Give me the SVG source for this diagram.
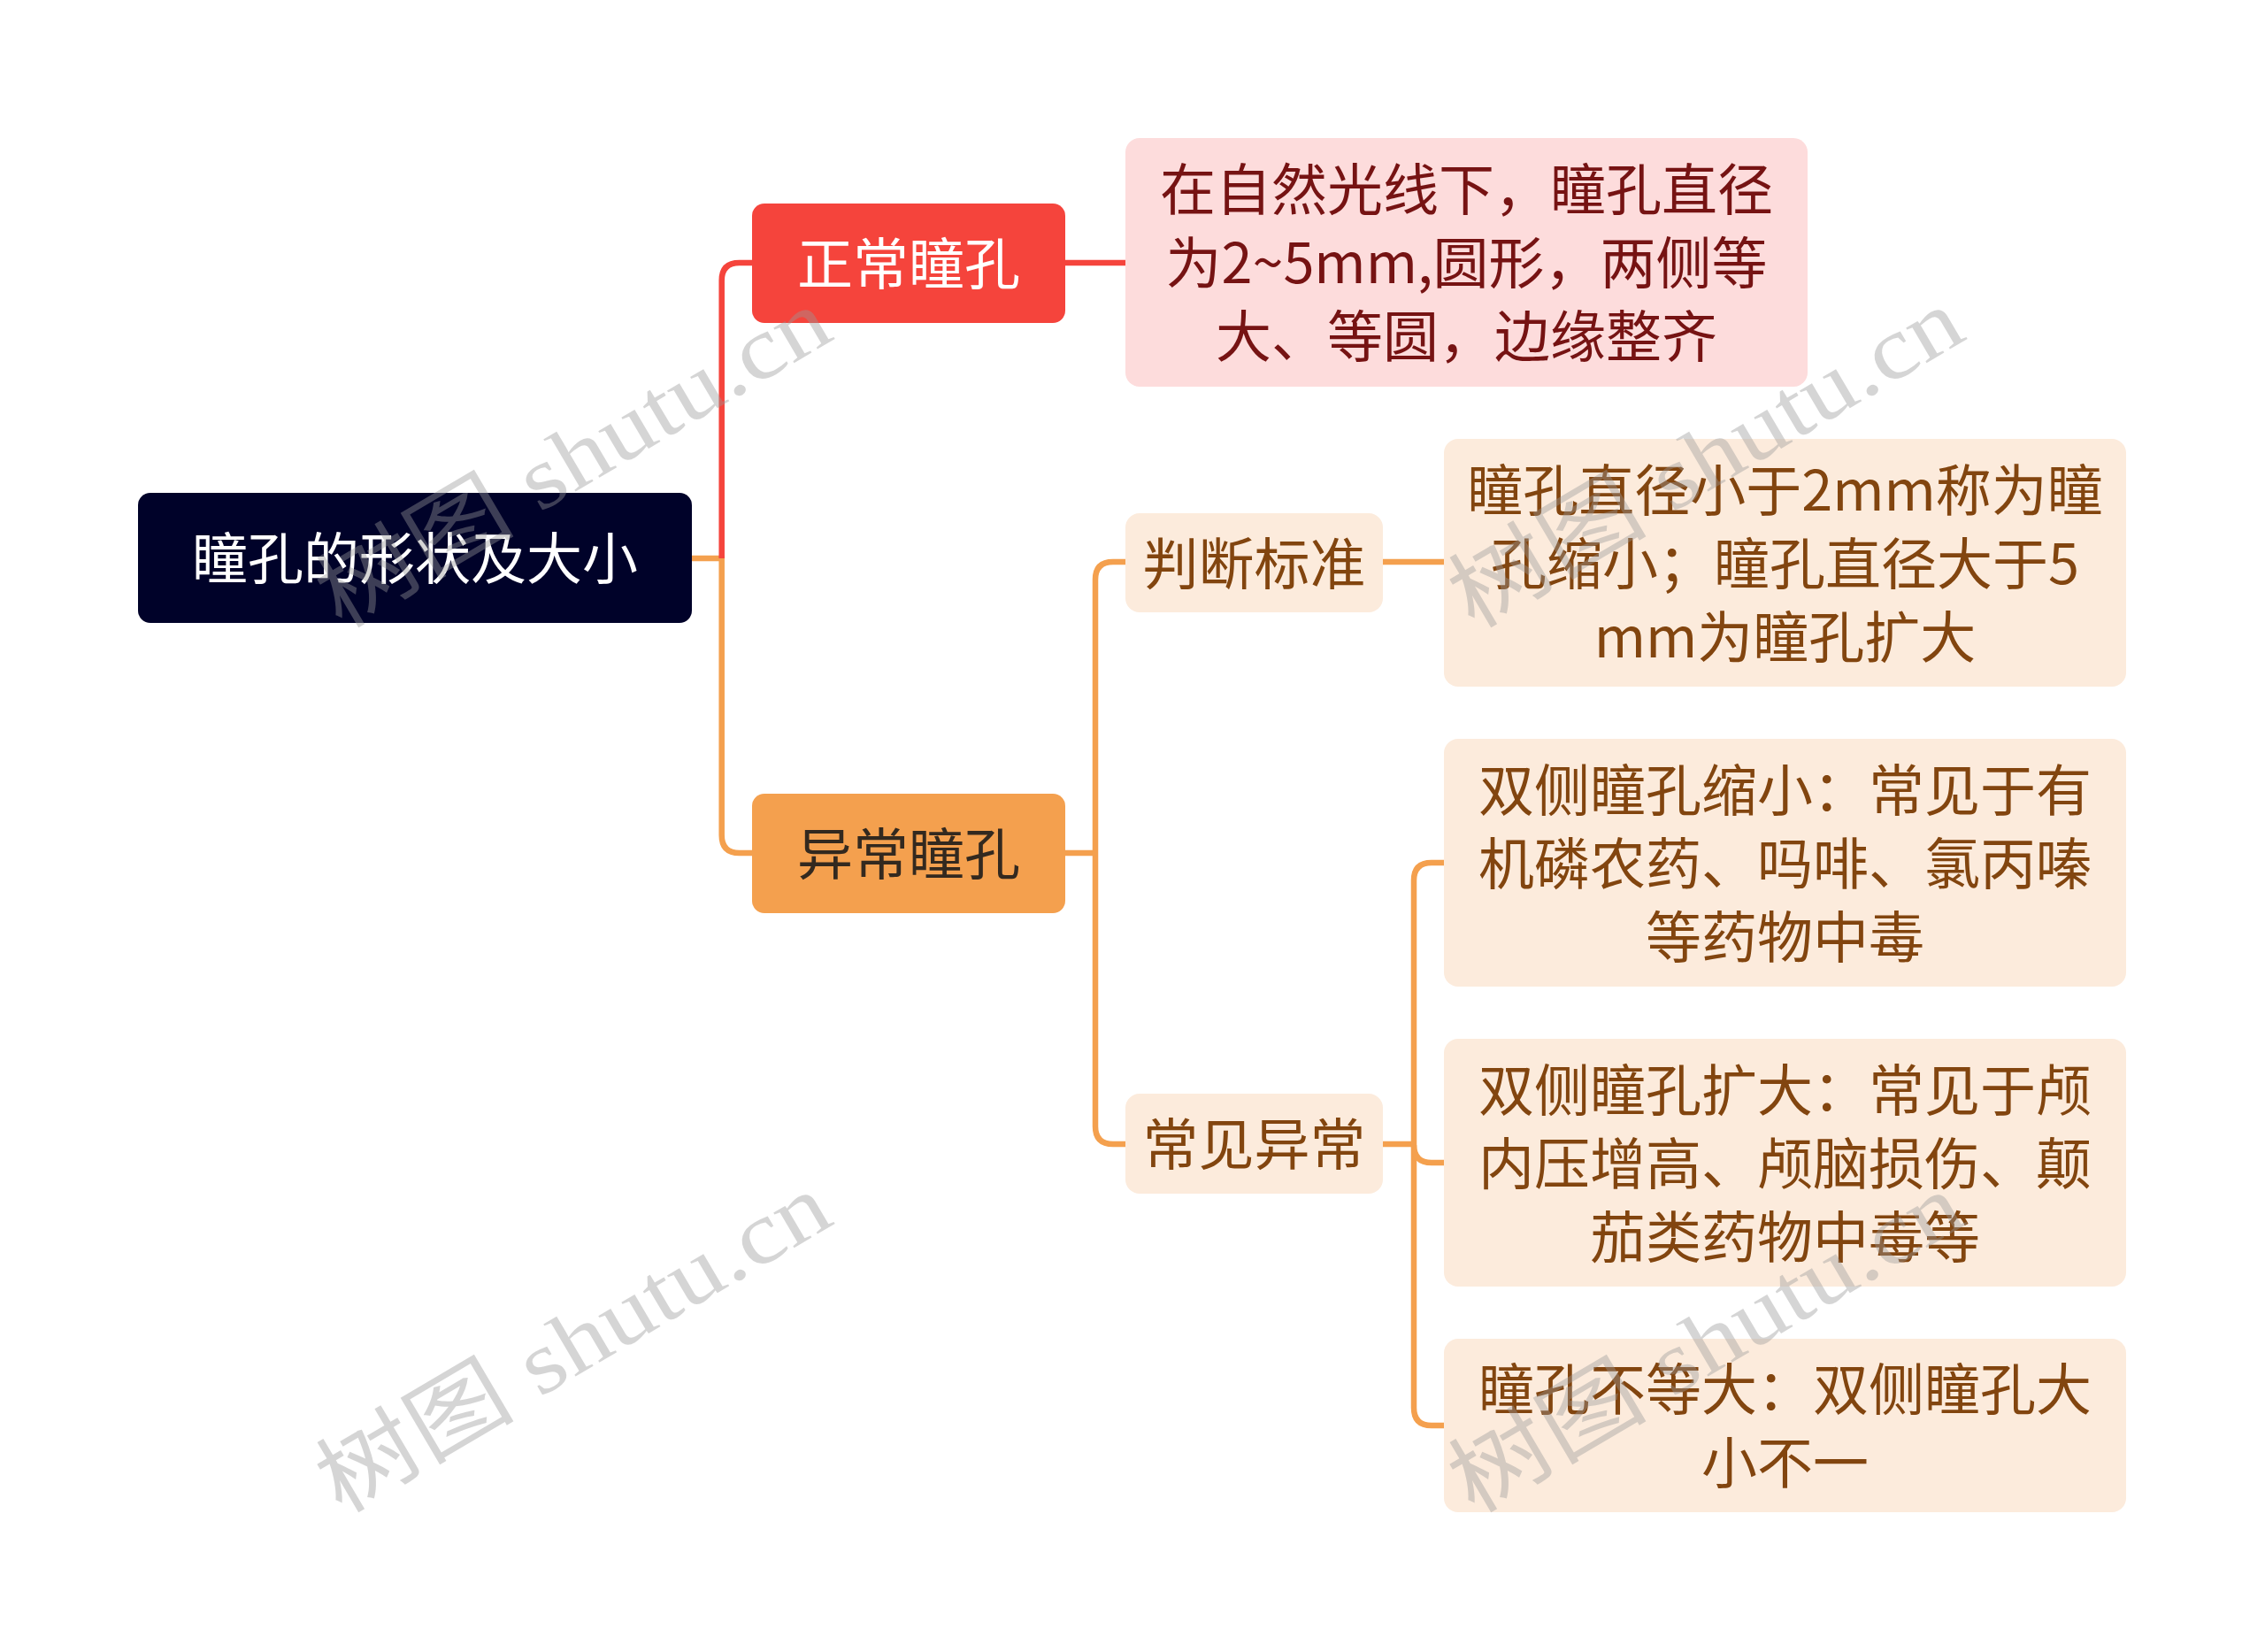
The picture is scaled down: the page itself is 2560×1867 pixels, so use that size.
<svg xmlns="http://www.w3.org/2000/svg" width="2560" height="1867" viewBox="0 0 2560 1867">
<style>
text{font-family:"Noto Sans CJK SC","Noto Sans",sans-serif;font-size:63px;text-anchor:middle}
.red{fill:#F5443C}
.org{fill:#F4A04E}
.pink{fill:#FDDCDC}
.cream{fill:#FCEBDC}
.tw{fill:#FFFFFF}
.tp{fill:#761313}
.tc{fill:#82450F}
.td{fill:#33291F}
.lr{fill:none;stroke:#F5443C;stroke-width:6.5}
.lo{fill:none;stroke:#F4A04E;stroke-width:6.5}
.wm{font-family:"Liberation Serif","Noto Sans CJK SC",serif;font-size:100px;fill:#999999;opacity:0.4;text-anchor:start}
</style>
<rect width="2560" height="1867" fill="#FFFFFF"/>
<g id="connectors">
<path class="lo" d="M782 631 H815.7 V944 Q815.7 964 835.7 964 H852"/>
<path class="lr" d="M815.7 631 V317 Q815.7 297 835.7 297 H852"/>
<path class="lr" d="M1202 297 H1274"/>
<path class="lo" d="M1202 964 H1238"/>
<path class="lo" d="M1274 635 H1258 Q1238 635 1238 655 V1273 Q1238 1293 1258 1293 H1274"/>
<path class="lo" d="M1561 635 H1634"/>
<path class="lo" d="M1561 1293 H1598"/>
<path class="lo" d="M1634 975 H1618 Q1598 975 1598 995 V1591 Q1598 1611 1618 1611 H1634"/>
<path class="lo" d="M1598 1294 Q1598 1314 1618 1314 H1634"/>
</g>
<g id="root">
<rect x="156" y="557" width="626" height="147" rx="14" fill="#000229"/>
<text class="tw" x="469" y="654">瞳孔的形状及大小</text>
</g>
<g id="normal">
<rect class="red" x="850" y="230" width="354" height="135" rx="14"/>
<text class="tw" x="1027" y="321">正常瞳孔</text>
</g>
<g id="normal-desc">
<rect class="pink" x="1272" y="156" width="771" height="281" rx="16"/>
<text class="tp" x="1657.5" y="237">在自然光线下，瞳孔直径</text>
<text class="tp" x="1657.5" y="320">为2~5mm,圆形，两侧等</text>
<text class="tp" x="1657.5" y="403">大、等圆，边缘整齐</text>
</g>
<g id="abnormal">
<rect class="org" x="850" y="897" width="354" height="135" rx="14"/>
<text class="td" x="1027" y="988">异常瞳孔</text>
</g>
<g id="criteria">
<rect class="cream" x="1272" y="580" width="291" height="112" rx="16"/>
<text class="tc" x="1417.5" y="660">判断标准</text>
</g>
<g id="criteria-desc">
<rect class="cream" x="1632" y="496" width="771" height="280" rx="16"/>
<text class="tc" x="2017.5" y="577">瞳孔直径小于2mm称为瞳</text>
<text class="tc" x="2017.5" y="660">孔缩小；瞳孔直径大于5</text>
<text class="tc" x="2017.5" y="743">mm为瞳孔扩大</text>
</g>
<g id="common">
<rect class="cream" x="1272" y="1236" width="291" height="113" rx="16"/>
<text class="tc" x="1417.5" y="1316">常见异常</text>
</g>
<g id="miosis">
<rect class="cream" x="1632" y="835" width="771" height="280" rx="16"/>
<text class="tc" x="2017.5" y="916">双侧瞳孔缩小：常见于有</text>
<text class="tc" x="2017.5" y="999">机磷农药、吗啡、氯丙嗪</text>
<text class="tc" x="2017.5" y="1082">等药物中毒</text>
</g>
<g id="mydriasis">
<rect class="cream" x="1632" y="1174" width="771" height="280" rx="16"/>
<text class="tc" x="2017.5" y="1255">双侧瞳孔扩大：常见于颅</text>
<text class="tc" x="2017.5" y="1338">内压增高、颅脑损伤、颠</text>
<text class="tc" x="2017.5" y="1421">茄类药物中毒等</text>
</g>
<g id="anisocoria">
<rect class="cream" x="1632" y="1513" width="771" height="196" rx="16"/>
<text class="tc" x="2017.5" y="1593">瞳孔不等大：双侧瞳孔大</text>
<text class="tc" x="2017.5" y="1676">小不一</text>
</g>
<g id="watermarks">
<text class="wm" transform="translate(385 712) rotate(-30.5)" textLength="650" lengthAdjust="spacingAndGlyphs">树图 shutu.cn</text>
<text class="wm" transform="translate(385 1712) rotate(-30.5)" textLength="650" lengthAdjust="spacingAndGlyphs">树图 shutu.cn</text>
<text class="wm" transform="translate(1665 712) rotate(-30.5)" textLength="650" lengthAdjust="spacingAndGlyphs">树图 shutu.cn</text>
<text class="wm" transform="translate(1665 1712) rotate(-30.5)" textLength="650" lengthAdjust="spacingAndGlyphs">树图 shutu.cn</text>
</g>
</svg>
